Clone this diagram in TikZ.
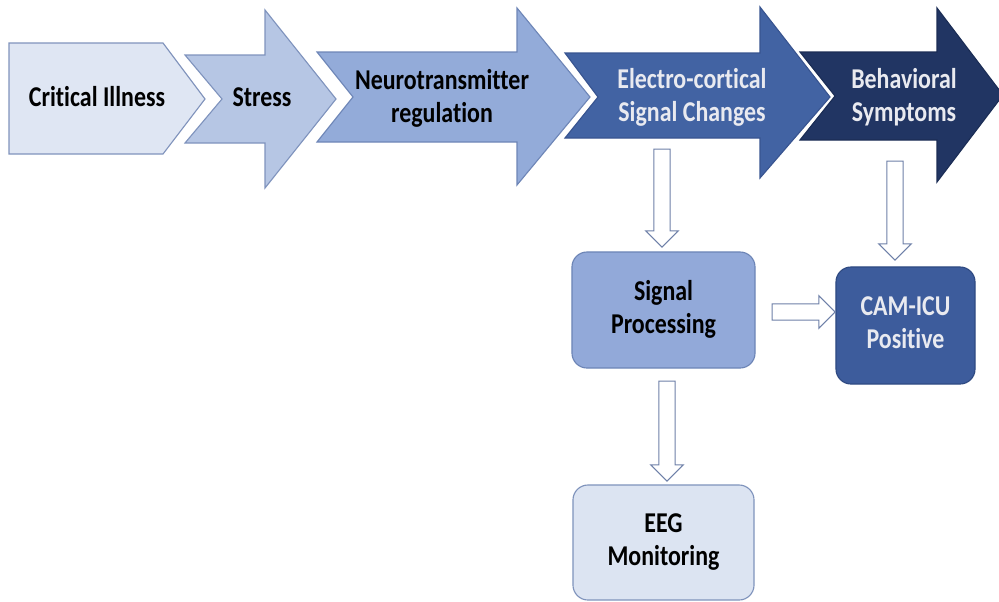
\documentclass[tikz,border=0pt]{standalone}
\usepackage{fontspec}
\setmainfont{Carlito}[Ligatures={NoCommon}]
\usepackage{graphicx}
\usepackage{xcolor}
\usetikzlibrary{shapes.arrows}

\definecolor{illnessFill}{HTML}{DFE6F3}
\definecolor{illnessLine}{HTML}{8093BC}
\definecolor{stressFill}{HTML}{B6C6E4}
\definecolor{stressLine}{HTML}{7F93BD}
\definecolor{neuroFill}{HTML}{93ABD9}
\definecolor{neuroLine}{HTML}{6E86B7}
\definecolor{electroFill}{HTML}{4263A3}
\definecolor{electroLine}{HTML}{385490}
\definecolor{behavFill}{HTML}{213563}
\definecolor{behavLine}{HTML}{1B2D55}
\definecolor{signalFill}{HTML}{92A9D9}
\definecolor{signalLine}{HTML}{6D85B6}
\definecolor{camFill}{HTML}{3D5C9C}
\definecolor{camLine}{HTML}{2F4A82}
\definecolor{eegFill}{HTML}{DCE4F2}
\definecolor{eegLine}{HTML}{7F93BC}
\definecolor{arrowLine}{HTML}{6E80A8}
\definecolor{lightText}{HTML}{E9EAF0}

\newcommand{\tallText}[1]{\scalebox{1}[1.2]{\begin{tabular}{@{}c@{}}#1\end{tabular}}}

\begin{document}
\begin{tikzpicture}[x=0.025cm, y=-0.025cm,
    chevron/.style={line width=0.8pt, line join=miter},
    chevText/.style={font=\fontsize{17}{19.5}\selectfont\bfseries, inner sep=0pt},
    roundBox/.style={rectangle, rounded corners=0.375cm, line width=0.8pt,
      font=\fontsize{17}{19.5}\selectfont\bfseries},
    blockArrow/.style={single arrow, draw=arrowLine, fill=white, line width=0.8pt,
      inner xsep=0pt, inner ysep=0.19cm, single arrow head extend=0.2cm,
      single arrow head indent=0pt}]
    \useasboundingbox (0,0) rectangle (999,601);

    % Critical Illness
    \draw[chevron, fill=illnessFill, draw=illnessLine]
      (9,43) -- (163,43) -- (205,99) -- (163,154) -- (9,154) -- cycle;
    \node[chevText] (illness) at (97,100) {\tallText{Critical Illness}};

    % Stress
    \draw[chevron, fill=stressFill, draw=stressLine]
      (185,55) -- (265,55) -- (265,10) -- (336,99) -- (265,188) -- (265,143)
      -- (185,143) -- (222,99) -- cycle;
    \node[chevText] (stress) at (262,100) {\tallText{Stress}};

    % Neurotransmitter
    \draw[chevron, fill=neuroFill, draw=neuroLine]
      (317,52) -- (517,52) -- (517,8) -- (590,97) -- (517,185) -- (517,142)
      -- (317,142) -- (353,97) -- cycle;
    \node[chevText] (neuro) at (442,99) {\tallText{Neurotransmitter\\regulation}};

    % Electro-cortical
    \draw[chevron, fill=electroFill, draw=electroLine]
      (565,53) -- (760,53) -- (760,7) -- (830,97) -- (760,178) -- (760,138)
      -- (565,138) -- (598,97) -- cycle;
    \node[chevText, text=lightText] (electro) at (692,98) {\tallText{Electro-cortical\\Signal Changes}};

    % Behavioral
    \draw[chevron, fill=behavFill, draw=behavLine]
      (800,52) -- (937,52) -- (937,8) -- (1003,95) -- (937,182) -- (937,140)
      -- (800,140) -- (835,96) -- cycle;
    \node[chevText, text=lightText] (behav) at (904,98) {\tallText{Behavioral\\Symptoms}};

    % Kaesten
    \node[roundBox, fill=signalFill, draw=signalLine, minimum width=4.575cm, minimum height=2.9cm]
      (signal) at (663.5,310) {\tallText{Signal\\Processing}};
    \node[roundBox, fill=camFill, draw=camLine, text=lightText, minimum width=3.475cm, minimum height=2.925cm]
      (cam) at (905.5,325.5) {\tallText{CAM-ICU\\Positive}};
    \node[roundBox, fill=eegFill, draw=eegLine, minimum width=4.525cm, minimum height=2.875cm]
      (eeg) at (663.5,542.5) {\tallText{EEG\\Monitoring}};

    % Blockpfeile
    \node[blockArrow, rotate=-90, minimum height=98*0.025cm] (toSignal) at (662,194) {};
    \node[blockArrow, rotate=-90, minimum height=99*0.025cm] (toCam) at (895,206.5) {};
    \node[blockArrow, minimum height=63*0.025cm] (signalToCam) at (799.5,312) {};
    \node[blockArrow, rotate=-90, minimum height=100*0.025cm] (toEeg) at (667,427) {};
\end{tikzpicture}
\end{document}
